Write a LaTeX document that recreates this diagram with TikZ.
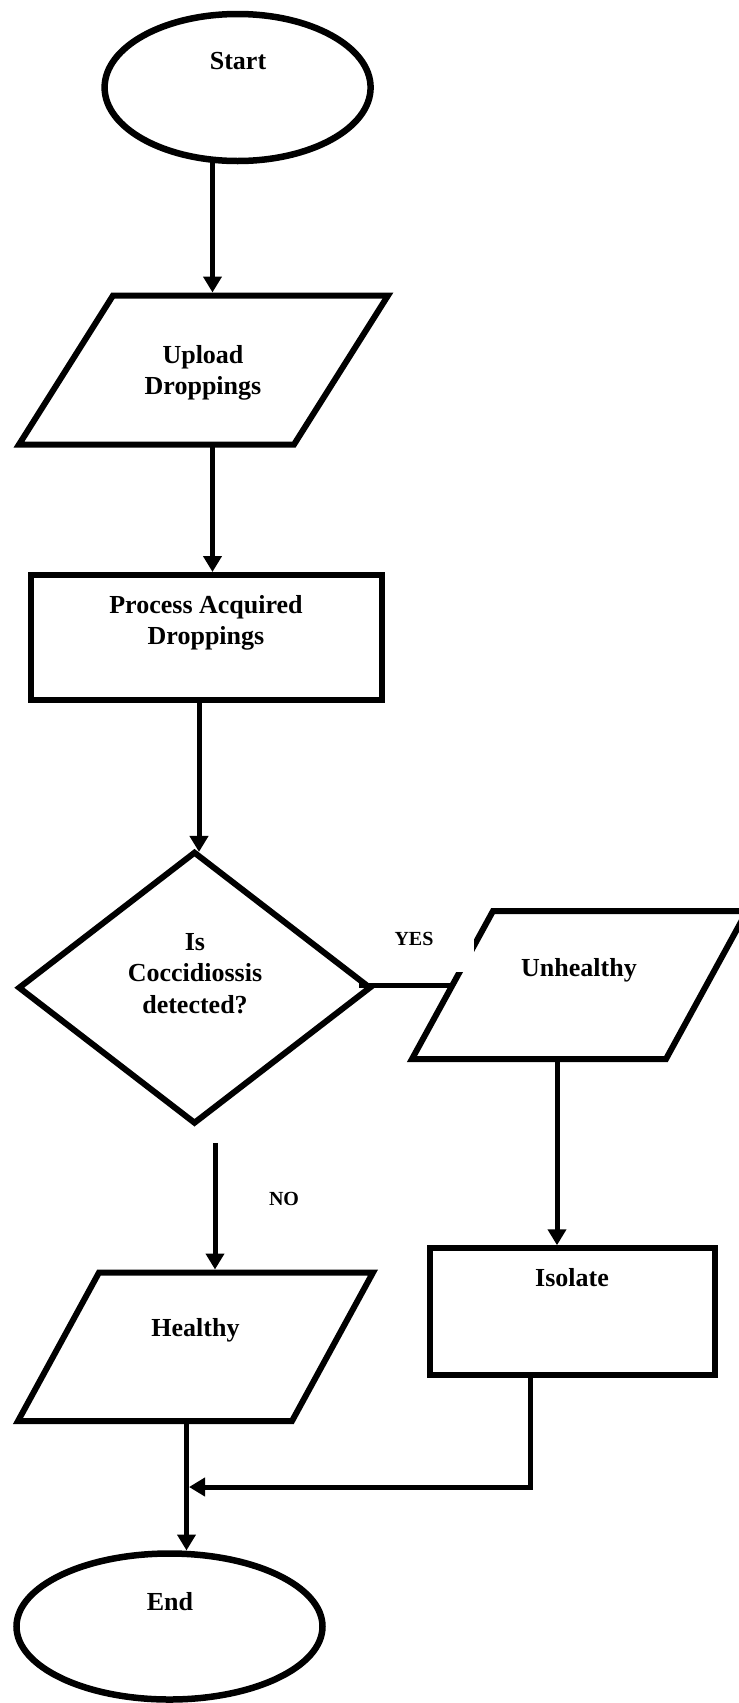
\documentclass[tikz,border=0pt]{standalone}
\usepackage{fontspec}
\setmainfont{Liberation Serif}
\usetikzlibrary{shapes.geometric,arrows.meta,calc}
\begin{document}
\begin{tikzpicture}[x=1pt,y=-1pt,
  shp/.style={draw, line width=6pt, inner sep=0pt, outer sep=3pt},
  term/.style={shp, ellipse, line width=6.5pt},
  procbox/.style={shp, rectangle},
  iobox/.style={rectangle, inner sep=0pt, outer sep=0pt},
  ioline/.style={line width=6pt},
  dec/.style={shp, diamond},
  conn/.style={line width=5pt},
  arr/.style={conn, -{Triangle[length=16pt,width=18pt]}},
  txt/.style={font=\bfseries\fontsize{26}{31.5}\selectfont, align=center, inner sep=0pt, anchor=north},
  lbl/.style={font=\bfseries\fontsize{20}{24}\selectfont, inner sep=0pt}]
\useasboundingbox (0,0) rectangle (739,1703);

% shapes
\node[term, minimum width=266pt, minimum height=147pt] (start) at (237.6,87.5) {};
\node[iobox, minimum width=369pt, minimum height=149pt] (up) at (203.5,370) {};
\draw[ioline] (up.south west) -- ($(up.north west)+(94,0)$) -- (up.north east) -- ($(up.south east)+(-94,0)$) -- cycle;
\node[procbox, minimum width=351pt, minimum height=125pt] (proc) at (206.25,637.5) {};
\node[dec, minimum width=353pt, minimum height=272.5pt] (dia) at (194.5,987.7) {};
\node[iobox, minimum width=335pt, minimum height=148pt] (unh) at (579.5,985) {};
\draw[ioline] (unh.south west) -- ($(unh.north west)+(81,0)$) -- (unh.north east) -- ($(unh.south east)+(-81,0)$) -- cycle;
\node[procbox, minimum width=285pt, minimum height=126.5pt] (iso) at (572.3,1311.5) {};
\node[iobox, minimum width=355pt, minimum height=148.5pt] (heal) at (195.5,1346.75) {};
\draw[ioline] (heal.south west) -- ($(heal.north west)+(81,0)$) -- (heal.north east) -- ($(heal.south east)+(-81,0)$) -- cycle;
\node[term, minimum width=306pt, minimum height=146pt] (end) at (169.5,1626.5) {};

% texts
\node[txt] (tstart) at (238,52) {Start};
\node[txt] (tup) at (203,345) {Upload\\Droppings};
\node[txt] (tproc) at (206,595) {Process Acquired\\Droppings};
\node[txt] (tdia) at (195,933) {Is\\Coccidiossis\\detected?};
\node[txt] (tunh) at (579,958) {Unhealthy};
\node[txt] (tiso) at (572,1268) {Isolate};
\node[txt] (theal) at (195.5,1318) {Healthy};
\node[txt] (tend) at (170,1592) {End};

% labels
\node[lbl, fill=white, minimum height=67pt] (yes) at (427.5,938.5) {\makebox[93pt][l]{\hspace*{13.5pt}YES}};
\node[lbl, anchor=north] (no) at (284,1192) {NO};

% connector columns
\coordinate (c1) at (212.5,0);
\coordinate (c2) at (199,0);
\coordinate (c3) at (215,0);
\coordinate (c4) at (557,0);
\coordinate (c5) at (186.5,0);
\coordinate (c6) at (530,0);
\coordinate (nostart) at ($(c3 |- dia.south)+(0,16)$);
\coordinate (mrg) at (189,1487);

% connectors
\draw[arr] ($(c1 |- start.south)+(0,-3)$) -- ($(c1 |- up.north)+(0,-3)$);
\draw[arr] (c1 |- up.south) -- (c1 |- proc.north);
\draw[arr] (c2 |- proc.south) -- ($(c2 |- dia.north)+(0,3.5)$);
\draw[conn] ($(dia.east |- unh.west)+(-15,0)$) -- ($(unh.west)+(38,0)$);
\draw[arr] (nostart) -- ($(c3 |- heal.north)+(0,-3)$);
\draw[arr] (c4 |- unh.south) -- (c4 |- iso.north);
\draw[arr] (c5 |- heal.south) -- (c5 |- end.north);
\draw[arr] (c6 |- iso.south) |- (mrg);
\end{tikzpicture}
\end{document}
